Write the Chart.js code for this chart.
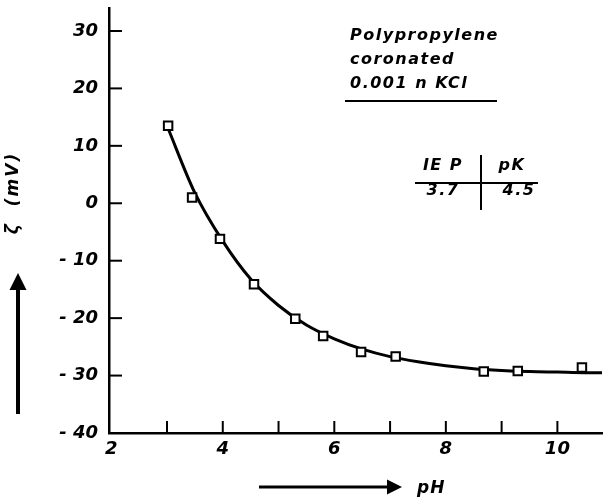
<!DOCTYPE html>
<html>
<head>
<meta charset="utf-8">
<script src="https://cdn.jsdelivr.net/npm/chart.js@4/dist/chart.umd.min.js"></script>
<style>
  body { margin: 0; background: #fff; }
  #wrap { width: 604px; height: 499px; }
</style>
</head>
<body>
<div id="wrap"><canvas id="myChart" width="604" height="499"></canvas></div>
<script>
// measured points (pH, zeta potential in mV)
const phValues = [3.02, 3.45, 3.95, 4.56, 5.30, 5.80, 6.48, 7.10, 8.68, 9.29, 10.44];
const zetaValues = [13.5, 1.0, -6.2, -14.1, -20.1, -23.1, -25.9, -26.7, -29.3, -29.2, -28.6];

// fitted curve
const curveX = [3.0, 3.5, 4.0, 4.5, 5.0, 5.5, 6.0, 6.5, 7.0, 7.5, 8.0, 8.5, 9.0, 9.5, 10.0, 10.5, 10.8];
const curveY = [13.5, 1.8, -6.6, -13.2, -17.8, -21.2, -23.6, -25.4, -26.7, -27.6, -28.3, -28.8, -29.1, -29.3, -29.4, -29.5, -29.5];

const yTickLabels = { 30: "30", 20: "20", 10: "10", 0: "0", "-10": "- 10", "-20": "- 20", "-30": "- 30", "-40": "- 40" };
const xTickLabels = { 2: "2", 4: "4", 6: "6", 8: "8", 10: "10" };

const fam = "'DejaVu Sans', 'Liberation Sans', sans-serif";

function arrow(ctx, x1, y1, x2, y2, hl, hw) {
  const ang = Math.atan2(y2 - y1, x2 - x1);
  ctx.beginPath();
  ctx.moveTo(x1, y1);
  ctx.lineTo(x2 - hl * Math.cos(ang), y2 - hl * Math.sin(ang));
  ctx.stroke();
  ctx.beginPath();
  ctx.moveTo(x2, y2);
  ctx.lineTo(x2 - hl * Math.cos(ang) - hw * Math.sin(ang), y2 - hl * Math.sin(ang) + hw * Math.cos(ang));
  ctx.lineTo(x2 - hl * Math.cos(ang) + hw * Math.sin(ang), y2 - hl * Math.sin(ang) - hw * Math.cos(ang));
  ctx.closePath();
  ctx.fill();
}

const decor = {
  id: "decor",
  afterDraw(chart) {
    const ctx = chart.ctx;
    const xs = chart.scales.x, ys = chart.scales.y;
    const area = chart.chartArea;
    ctx.save();
    ctx.strokeStyle = "#000";
    ctx.fillStyle = "#000";
    ctx.lineWidth = 2;
    // inward ticks
    xs.ticks.forEach(t => {
      if (t.value <= 2) return;
      const px = xs.getPixelForValue(t.value);
      ctx.beginPath();
      ctx.moveTo(px, area.bottom);
      ctx.lineTo(px, area.bottom - 12);
      ctx.stroke();
    });
    ys.ticks.forEach(t => {
      if (t.value <= -40) return;
      const py = ys.getPixelForValue(t.value);
      ctx.beginPath();
      ctx.moveTo(area.left, py);
      ctx.lineTo(area.left + 13, py);
      ctx.stroke();
    });

    // axis arrows and titles
    ctx.lineWidth = 4;
    arrow(ctx, 18, 414, 18, 273, 17, 8.5);
    ctx.lineWidth = 3;
    arrow(ctx, 259, 487, 402, 487, 15, 7.5);
    ctx.font = "italic bold 17px " + fam;
    ctx.letterSpacing = "1px";
    ctx.textBaseline = "alphabetic";
    ctx.textAlign = "left";
    ctx.fillText("pH", 417, 493);
    ctx.save();
    ctx.translate(14, 193);
    ctx.rotate(-Math.PI / 2);
    ctx.textAlign = "center";
    ctx.textBaseline = "middle";
    ctx.letterSpacing = "2px";
    ctx.fillText("ζ  (mV)", 0, 0);
    ctx.restore();

    // annotation
    ctx.font = "italic bold 16px " + fam;
    ctx.letterSpacing = "1.5px";
    ctx.textBaseline = "alphabetic";
    ctx.textAlign = "left";
    ctx.fillText("Polypropylene", 350, 40);
    ctx.fillText("coronated", 350, 64);
    ctx.fillText("0.001 n KCl", 350, 88);
    ctx.lineWidth = 2;
    ctx.beginPath();
    ctx.moveTo(345, 101);
    ctx.lineTo(497, 101);
    ctx.stroke();

    ctx.textAlign = "center";
    ctx.fillText("IE P", 443, 170);
    ctx.fillText("pK", 512, 170);
    ctx.fillText("3.7", 443, 195);
    ctx.fillText("4.5", 519, 195);
    ctx.beginPath();
    ctx.moveTo(415, 183);
    ctx.lineTo(538, 183);
    ctx.moveTo(481, 155);
    ctx.lineTo(481, 210);
    ctx.stroke();
    ctx.restore();
  }
};

const tickFont = { family: fam, size: 18, style: "italic", weight: "bold" };

new Chart("myChart", {
  type: "scatter",
  data: {
    datasets: [
      {
        label: "measured",
        data: phValues.map((v, i) => ({ x: v, y: zetaValues[i] })),
        pointStyle: "rect",
        pointRadius: 6,
        pointBorderWidth: 2,
        pointBackgroundColor: "#fff",
        pointBorderColor: "#000",
        showLine: false
      },
      {
        label: "fit",
        data: curveX.map((v, i) => ({ x: v, y: curveY[i] })),
        showLine: true,
        cubicInterpolationMode: "monotone",
        borderColor: "#000",
        borderWidth: 3,
        pointRadius: 0
      }
    ]
  },
  options: {
    responsive: false,
    animation: false,
    layout: { autoPadding: false, padding: { top: 8, right: 2, left: 0, bottom: 0 } },
    plugins: { legend: { display: false }, tooltip: { enabled: false } },
    scales: {
      x: {
        type: "linear",
        min: 1.96,
        max: 10.8,
        afterFit: s => { s.height = 66; s.paddingLeft = 0; s.paddingRight = 0; },
        border: { display: true, color: "#000", width: 2.5 },
        grid: { display: true, drawOnChartArea: false, drawTicks: false, color: "transparent" },
        ticks: {
          stepSize: 1,
          autoSkip: false,
          includeBounds: false,
          maxRotation: 0,
          padding: 6,
          color: "#000",
          font: tickFont,
          callback: v => xTickLabels[v] || ""
        }
      },
      y: {
        type: "linear",
        min: -40,
        max: 34,
        afterFit: s => { s.width = 109; s.paddingTop = 0; s.paddingBottom = 0; },
        border: { display: true, color: "#000", width: 2.5 },
        grid: { display: true, drawOnChartArea: false, drawTicks: false, color: "transparent" },
        ticks: {
          stepSize: 10,
          autoSkip: false,
          includeBounds: false,
          padding: 11,
          color: "#000",
          font: tickFont,
          callback: v => yTickLabels[v] || ""
        }
      }
    }
  },
  plugins: [decor]
});
</script>
</body>
</html>
